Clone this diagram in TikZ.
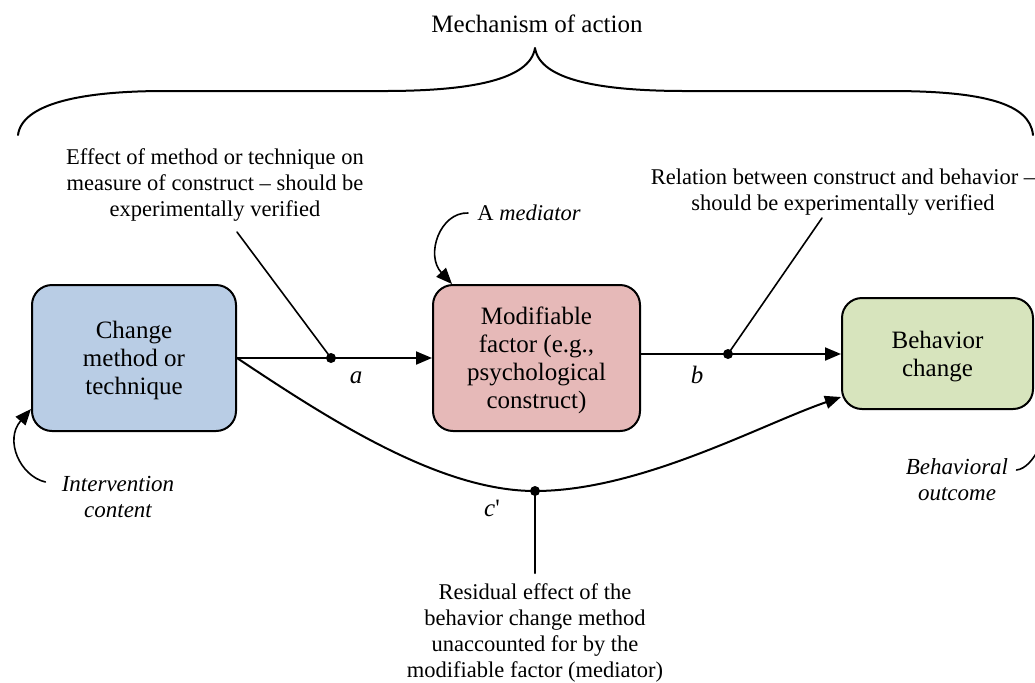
\documentclass[tikz,border=0pt]{standalone}
\usepackage{fontspec}
\setmainfont{Liberation Serif}
\usetikzlibrary{arrows.meta}
\definecolor{methodblue}{HTML}{B9CDE5}
\definecolor{factorred}{HTML}{E6B9B8}
\definecolor{outcomegreen}{HTML}{D7E4BD}

\begin{document}
\begin{tikzpicture}[x=0.5pt,y=-0.5pt,line cap=round,line join=round,
  >={Triangle[length=8pt,width=6.5pt]},
  box/.style={draw,line width=1pt,rounded corners=10pt,align=center,inner sep=0pt,
    font=\fontsize{12.5}{14}\selectfont},
  note/.style={align=center,inner sep=0pt,font=\fontsize{11.25}{13}\selectfont},
  hint/.style={align=center,inner sep=0pt,font=\fontsize{11.5}{13}\selectfont\itshape},
  dot/.style={circle,fill=black,inner sep=0pt,minimum size=5pt},
  link/.style={line width=1pt,->},
  pointer/.style={line width=0.8pt}]
\useasboundingbox (0,0) rectangle (1035,682);
\clip (0,0) rectangle (1035,682);
% brace over the whole mechanism
\draw[line width=1pt] (18,135) .. controls (22,104) and (80,91) .. (165,91) -- (384,91)
  .. controls (470,91) and (530,80) .. (535,48)
  .. controls (540,80) and (600,91) .. (686,91) -- (890,91)
  .. controls (985,91) and (1030,104) .. (1033,135);
\node[note,font=\fontsize{12.5}{13}\selectfont] (mechanism) at (537,24) {Mechanism of action};
% the three boxes
\node[box,fill=methodblue,minimum width=102pt,minimum height=73pt,text depth=-1.5pt] (method) at (134,358)
  {Change\\method or\\technique};
\node[box,fill=factorred,minimum width=103.5pt,minimum height=73pt,text depth=-1.5pt] (factor) at (536.5,358)
  {Modifiable\\factor (e.g.,\\psychological\\construct)};
\node[box,fill=outcomegreen,minimum width=95.5pt,minimum height=55.5pt,text depth=-2pt] (behavior) at (937.5,353.5)
  {Behavior\\change};
% paths a, b and c'
\node[dot] (dota) at (331,358) {};
\node[dot] (dotb) at (728,354) {};
\node[dot] (dotc) at (535,491) {};
\draw[link] (method.east |- dota) -- (factor.west |- dota);
\draw[link] (factor.east |- dotb) -- (behavior.west |- dotb);
\draw[link] (method.east |- dota) .. controls (330,420) and (440,491) .. (dotc.center)
  .. controls (640,491) and (760,425) .. ([yshift=6.5pt]behavior.south west);
\node[note,font=\fontsize{12.5}{13}\selectfont\itshape] (alabel) at (356,378) {a};
\node[note,font=\fontsize{12.5}{13}\selectfont\itshape] (blabel) at (697,375) {b};
\node[note,font=\fontsize{12.5}{13}\selectfont] (clabel) at (492,508) {\textit{c}\textquotesingle};
% explanations
\node[note] (effect) at (215,185)
  {Effect of method or technique on\\measure of construct -- should be\\experimentally verified};
\node[note] (relation) at (843,192)
  {Relation between construct and behavior --\\should be experimentally verified};
\node[note] (residual) at (535,633)
  {Residual effect of the\\behavior change method\\unaccounted for by the\\modifiable factor (mediator)};
\coordinate (effecttip) at (237,232);
\coordinate (relationtip) at (822,218);
\draw[pointer] (dota.center) -- (effecttip);
\draw[pointer] (dotb.center) -- (relationtip);
\draw[pointer] (dotc.center) -- ([yshift=5pt]residual.north);
% side labels
\node[note,anchor=west,inner xsep=4.5pt] (mediator) at (468,213) {A \textit{mediator}};
\draw[pointer,->] (mediator.west) .. controls (440,212) and (425,255)
  .. ([xshift=10pt]factor.north west);
\node[hint] (content) at (118,497) {Intervention\\content};
\draw[pointer,->] ([xshift=-8pt,yshift=7.5pt]content.west) .. controls (20,476) and (4,440)
  .. ([yshift=11.5pt]method.south west);
\node[hint] (outcome) at (957,480) {Behavioral\\outcome};
\draw[pointer,->] ([xshift=4pt,yshift=5pt]outcome.east) .. controls (1035,468) and (1048,430)
  .. ([xshift=6pt,yshift=2pt]behavior.south east);
\end{tikzpicture}
\end{document}
